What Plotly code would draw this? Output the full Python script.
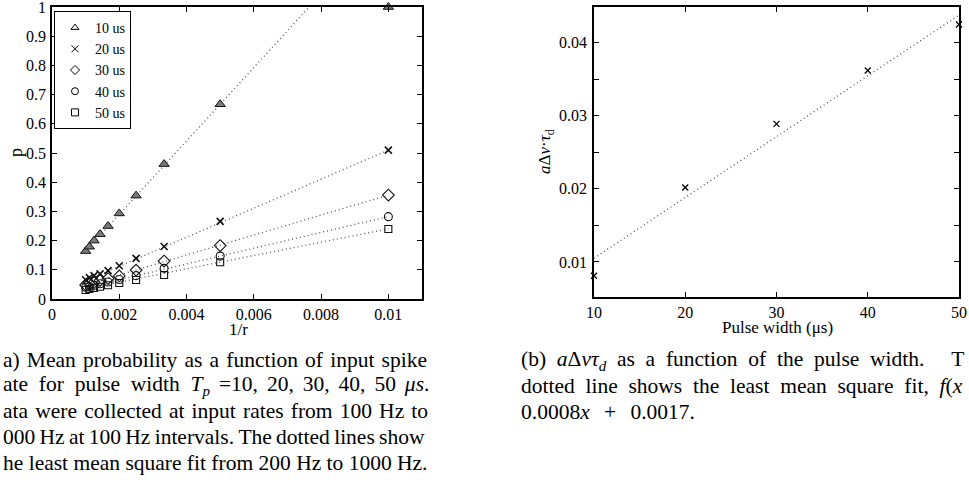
import plotly.graph_objects as go

W, H = 969, 485

# ---------------- data: panel (a) ----------------
inv_r = [0.001, 0.001111, 0.00125, 0.001429, 0.001667, 0.002, 0.0025, 0.003333, 0.005, 0.01]
p_10us = [0.164, 0.179, 0.200, 0.222, 0.250, 0.293, 0.354, 0.462, 0.667, 1.000]
p_20us = [0.066, 0.073, 0.080, 0.086, 0.097, 0.114, 0.139, 0.180, 0.266, 0.510]
p_30us = [0.048, 0.052, 0.057, 0.064, 0.070, 0.079, 0.099, 0.130, 0.183, 0.356]
p_40us = [0.040, 0.043, 0.047, 0.052, 0.058, 0.067, 0.080, 0.105, 0.147, 0.282]
p_50us = [0.031, 0.034, 0.038, 0.042, 0.047, 0.055, 0.065, 0.082, 0.126, 0.240]

fit_x_a = [0.001, 0.01]
fit_10us = [0.164, 1.296]
fit_20us = [0.062, 0.510]
fit_30us = [0.048, 0.356]
fit_40us = [0.039, 0.282]
fit_50us = [0.035, 0.240]

series_names = ["10 us", "20 us", "30 us", "40 us", "50 us"]

# ---------------- data: panel (b) ----------------
pulse_width = [10, 20, 30, 40, 50]
a_dv_tau = [0.0081, 0.0202, 0.0289, 0.0362, 0.0425]
fit_x_b = [10, 50]
fit_y_b = [0.0105, 0.0438]

xa_ticks = [0, 0.002, 0.004, 0.006, 0.008, 0.01]
xa_ticktext = ["0", "0.002", "0.004", "0.006", "0.008", "0.01"]
ya_ticks = [0, 0.1, 0.2, 0.3, 0.4, 0.5, 0.6, 0.7, 0.8, 0.9, 1.0]
ya_ticktext = ["0", "0.1", "0.2", "0.3", "0.4", "0.5", "0.6", "0.7", "0.8", "0.9", "1"]
xb_ticks = [10, 20, 30, 40, 50]
xb_ticktext = ["10", "20", "30", "40", "50"]
yb_ticks = [0.01, 0.015, 0.02, 0.025, 0.03, 0.035, 0.04]
yb_ticktext = ["0.01", "", "0.02", "", "0.03", "", "0.04"]

FONT = "Liberation Serif, Times New Roman, serif"
DOT = "1px,3px"
FITC = "#555555"

fig = go.Figure()

symbols_data = ["triangle-up", "x-thin-open", "diamond-open", "circle-open", "square-open"]
symbols_leg = ["triangle-up-open", "x-thin-open", "diamond-open", "circle-open", "square-open"]
ys = [p_10us, p_20us, p_30us, p_40us, p_50us]
fits = [fit_10us, fit_20us, fit_30us, fit_40us, fit_50us]
sizes = [9, 7, 9, 8, 7]

for name, yv, fv, sd, sl, sz in zip(series_names, ys, fits, symbols_data, symbols_leg, sizes):
    fig.add_trace(go.Scatter(x=fit_x_a, y=fv, mode="lines", xaxis="x", yaxis="y",
                             line=dict(color=FITC, width=1.3, dash=DOT),
                             showlegend=False, hoverinfo="skip"))
    if sd == "triangle-up":
        mk = dict(symbol=sd, size=sz, color="#7a7a7a", line=dict(color="#111111", width=1))
    elif sd == "x-thin-open":
        mk = dict(symbol=sd, size=sz, color="#111111", line=dict(color="#111111", width=1.6))
    else:
        mk = dict(symbol=sd, size=sz, color="#111111", line=dict(color="#111111", width=1.1))
    fig.add_trace(go.Scatter(x=inv_r, y=yv, mode="markers", xaxis="x", yaxis="y",
                             marker=mk, showlegend=False, cliponaxis=False))
    fig.add_trace(go.Scatter(x=[None], y=[None], mode="markers", name=name, xaxis="x", yaxis="y",
                             marker=dict(symbol=sl, size=7, color="black", line=dict(color="black", width=1))))

fig.add_trace(go.Scatter(x=fit_x_b, y=fit_y_b, mode="lines", xaxis="x2", yaxis="y2",
                         line=dict(color=FITC, width=1.3, dash=DOT),
                         showlegend=False, hoverinfo="skip"))
fig.add_trace(go.Scatter(x=pulse_width, y=a_dv_tau, mode="markers", xaxis="x2", yaxis="y2",
                         marker=dict(symbol="x-thin-open", size=6, color="black", line=dict(color="black", width=1.3)),
                         showlegend=False, cliponaxis=False))

ax_common = dict(showline=True, linecolor="black", linewidth=1.6, mirror="ticks", ticks="inside",
                 ticklen=5, tickcolor="black", tickwidth=1, showgrid=False, zeroline=False,
                 tickmode="array", ticklabeloverflow="allow", automargin=False,
                 tickfont=dict(family=FONT, size=16, color="black"))

fig.update_layout(
    width=W, height=H,
    margin=dict(l=0, r=0, t=0, b=0, autoexpand=False),
    paper_bgcolor="white", plot_bgcolor="white",
    font=dict(family=FONT, size=16, color="black"),
    xaxis=dict(domain=[52 / W, 422 / W], range=[0, 0.011], tickvals=xa_ticks, ticktext=xa_ticktext,
               anchor="y", ticklabelstandoff=0, **ax_common),
    yaxis=dict(domain=[1 - 299 / H, 1 - 7 / H], range=[0, 1.0001], tickvals=ya_ticks, ticktext=ya_ticktext,
               anchor="x", ticklabelstandoff=1, **ax_common),
    xaxis2=dict(domain=[594 / W, 959 / W], range=[10, 50], tickvals=xb_ticks, ticktext=xb_ticktext,
                anchor="y2", ticklabelstandoff=0, **ax_common),
    yaxis2=dict(domain=[1 - 297 / H, 1 - 7 / H], range=[0.0052, 0.0449], tickvals=yb_ticks,
                ticktext=yb_ticktext, anchor="x2", ticklabelstandoff=2, **ax_common),
    legend=dict(x=54 / W, y=1 - 11 / H, xanchor="left", yanchor="top", bgcolor="white",
                bordercolor="black", borderwidth=1, font=dict(family=FONT, size=14)),
    showlegend=True,
)

def px(x, y):
    return x / W, 1 - y / H

anns = []
def add(text, x, y, size, xanchor="center", angle=0):
    xx, yy = px(x, y)
    anns.append(dict(text=text, x=xx, y=yy, xref="paper", yref="paper", showarrow=False,
                     xanchor=xanchor, yanchor="middle", textangle=angle,
                     font=dict(family=FONT, size=size, color="black")))

add("1/r", 238, 329, 17)
add("p", 16, 152, 18, angle=-90)
add("Pulse width (μs)", 777, 327, 17)
add("<i>a</i>Δ<i>v</i>·<i>τ</i><sub>d</sub>", 546, 152, 17, angle=-90)

def justify(words, extras):
    out = words[0]
    for w, e in zip(words[1:], extras):
        out += " " + e + w
    return out

line2_words = "ate for pulse width <i>T<sub>p</sub></i> =10, 20, 30, 40, 50 <i>μs</i>.".split(" ")
cap_a = [
    justify("a) Mean probability as a function of input spike".split(" "), ["\u200a"] * 8),
    justify(line2_words, ["\u2005"] * 4 + ["\u2006"] * 6),
    justify("ata were collected at input rates from 100 Hz to".split(" "), ["\u200a"] * 9),
    "\u2009".join("000 Hz at 100 Hz intervals. The dotted lines show".split(" ")),
    "he least mean square fit from 200 Hz to 1000 Hz.",
]
for i, t in enumerate(cap_a):
    add(t, 1, 360 + i * 25.7, 21.5, xanchor="left")

b1_words = ["(b)", "<i>a</i>Δ<i>vτ<sub>d</sub></i>", "as", "a", "function", "of", "the", "pulse",
            "width.", "\u2005\u2005\u2005T"]
cap_b = [
    justify(b1_words, ["\u2005"] * 9),
    justify("dotted line shows the least mean square fit, <i>f</i>(<i>x</i>".split(" "), ["\u2005"] * 8),
    "0.0008<i>x</i>\u2005 \u2006+\u2006 \u20050.0017.",
]
for i, t in enumerate(cap_b):
    add(t, 519, 360 + i * 26, 21.5, xanchor="left")

fig.update_layout(annotations=anns)
fig.write_html("out.html")
